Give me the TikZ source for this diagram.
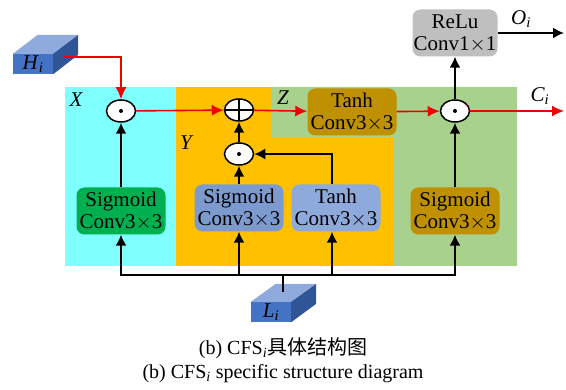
\documentclass[tikz,border=0pt]{standalone}
\usepackage{fontspec}
\setmainfont{Liberation Serif}
\newfontfamily\cjk{Noto Sans CJK SC}
\usepackage{tikz}
\usetikzlibrary{arrows.meta,shapes,positioning}
\usepackage{xcolor}
\definecolor{cfcyan}{RGB}{128,255,255}
\definecolor{cforange}{RGB}{255,192,0}
\definecolor{cfgreen}{RGB}{169,209,142}
\definecolor{cfdarkgreen}{RGB}{0,176,80}
\definecolor{cfblue}{RGB}{124,154,206}
\definecolor{cflightblue}{RGB}{142,170,220}
\definecolor{cfolive}{RGB}{191,144,0}
\definecolor{cfgray}{RGB}{191,191,191}
\definecolor{cfred}{RGB}{240,0,0}
\definecolor{cfblock}{RGB}{68,114,196}
\definecolor{cfblocktop}{RGB}{143,170,220}
\definecolor{cfblockside}{RGB}{47,85,151}
\tikzstyle{blackarrow} = [line width=1.8pt,-{Latex[length=11pt,width=11pt]},color=black]
\tikzstyle{blackline} = [line width=1.8pt,color=black]
\tikzstyle{redarrow} = [line width=1.6pt,-{Latex[length=12pt,width=11pt]},color=cfred]
\tikzstyle{convbox} = [rectangle, rounded corners=8pt, minimum width=89pt, minimum height=47pt, inner sep=0pt, align=center, font=\fontsize{21}{22}\selectfont]
\tikzstyle{opnode} = [ellipse, draw=black, line width=1.5pt, fill=white, minimum width=29pt, minimum height=22pt, inner sep=0pt]
\tikzstyle{dotop} = [opnode, path picture={\fill[black] (path picture bounding box.center) circle (2pt);}]
\tikzstyle{plusop} = [opnode, path picture={\draw[black,line width=1.5pt] (path picture bounding box.north) -- (path picture bounding box.south) (path picture bounding box.west) -- (path picture bounding box.east);}]
\tikzstyle{blockfront} = [rectangle, fill=cfblock, minimum width=40pt, minimum height=20pt, inner sep=0pt, font=\fontsize{21}{20}\selectfont]
\tikzstyle{varlabel} = [font=\fontsize{21}{20}\selectfont\itshape]
\tikzstyle{caption} = [font=\fontsize{20}{22}\selectfont]
\newcommand{\subvar}[2]{\textit{#1}\textsubscript{\textit{#2}}}

\begin{document}
\begin{tikzpicture}[x=1pt,y=-1pt]
\useasboundingbox (0,0) rectangle (566,390);
% Background regions
\fill[cfcyan] (65,87) rectangle (176,266);
\fill[cforange] (176,87) rectangle (393,266);
\fill[cfgreen] (272,87) -- (517,87) -- (517,266) -- (393,266) -- (393,137) -- (272,137) -- cycle;
\node[varlabel] at (76,100) {X};
\node[varlabel] at (186,143) {Y};
\node[varlabel] at (283,98) {Z};

% Input blocks
\node (hi) [blockfront] at (33,64) {\subvar{H}{i}};
\fill[cfblocktop] (hi.north west) -- ++(25,-19) -- ++(40,0) -- (hi.north east) -- cycle;
\fill[cfblockside] (hi.north east) -- ++(25,-19) -- ++(0,20) -- (hi.south east) -- cycle;
\node (li) [blockfront] at (271,312) {\subvar{L}{i}};
\fill[cfblocktop] (li.north west) -- ++(25,-18) -- ++(40,0) -- (li.north east) -- cycle;
\fill[cfblockside] (li.north east) -- ++(25,-18) -- ++(0,20) -- (li.south east) -- cycle;

% Conv nodes
\node (sigx) [convbox, fill=cfdarkgreen] at (121,211) {Sigmoid\\Conv3$\times$3};
\node (sigy) [convbox, fill=cfblue] at (239,208) {Sigmoid\\Conv3$\times$3};
\node (tanhy) [convbox, fill=cflightblue] at (336,208) {Tanh\\Conv3$\times$3};
\node (sigz) [convbox, fill=cfolive] at (455,211) {Sigmoid\\Conv3$\times$3};
\node (tanhz) [convbox, fill=cfolive] at (352,112) {Tanh\\Conv3$\times$3};
\node (relu) [convbox, fill=cfgray, minimum width=85pt] at (455,33) {ReLu\\Conv1$\times$1};

% Operators
\node (odx) [dotop] at (121,111) {};
\node (plus) [plusop] at (239,110) {};
\node (ody) [dotop] at (239,154) {};
\node (odc) [dotop] at (455,111) {};

% Arrows
\draw[redarrow] ([shift={(11,-7)}]hi.east) -| (odx.north);
\draw[redarrow] (odx) -- (plus);
\draw[redarrow] (plus) -- (tanhz);
\draw[redarrow] (tanhz) -- (odc);
\coordinate (cout) at (564,111);
\draw[redarrow] (odc) -- (cout);
\node[varlabel] at (540,96) {\subvar{C}{i}};
\draw[blackarrow] (odc) -- (relu);
\coordinate (oout) at (564,33);
\draw[blackarrow] (relu) -- (oout);
\node[varlabel] at (521,19) {\subvar{O}{i}};
\draw[blackarrow] (sigx) -- (odx);
\draw[blackarrow] (sigy) -- (ody);
\draw[blackarrow] (ody) -- (plus);
\draw[blackarrow] ([xshift=-4pt]tanhy.north) |- (ody);
\draw[blackarrow] (sigz) -- (odc);

% Input bus
\coordinate (bus) at (283,275);
\coordinate (litop) at ([shift={(12,-10)}]li.north);
\draw[blackline] (litop) -- (bus);
\draw[blackarrow] (bus) -| (sigx.south);
\draw[blackarrow] (bus) -| (sigy.south);
\draw[blackarrow] (bus) -| ([xshift=-4pt]tanhy.south);
\draw[blackarrow] (bus) -| (sigz.south);

% Caption
\node[caption] at (283,348) {(b) CFS\textsubscript{\textit{i}}{\cjk 具体结构图}};
\node[caption] at (283,374) {(b) CFS\textsubscript{\textit{i}} specific structure diagram};
\end{tikzpicture}
\end{document}
